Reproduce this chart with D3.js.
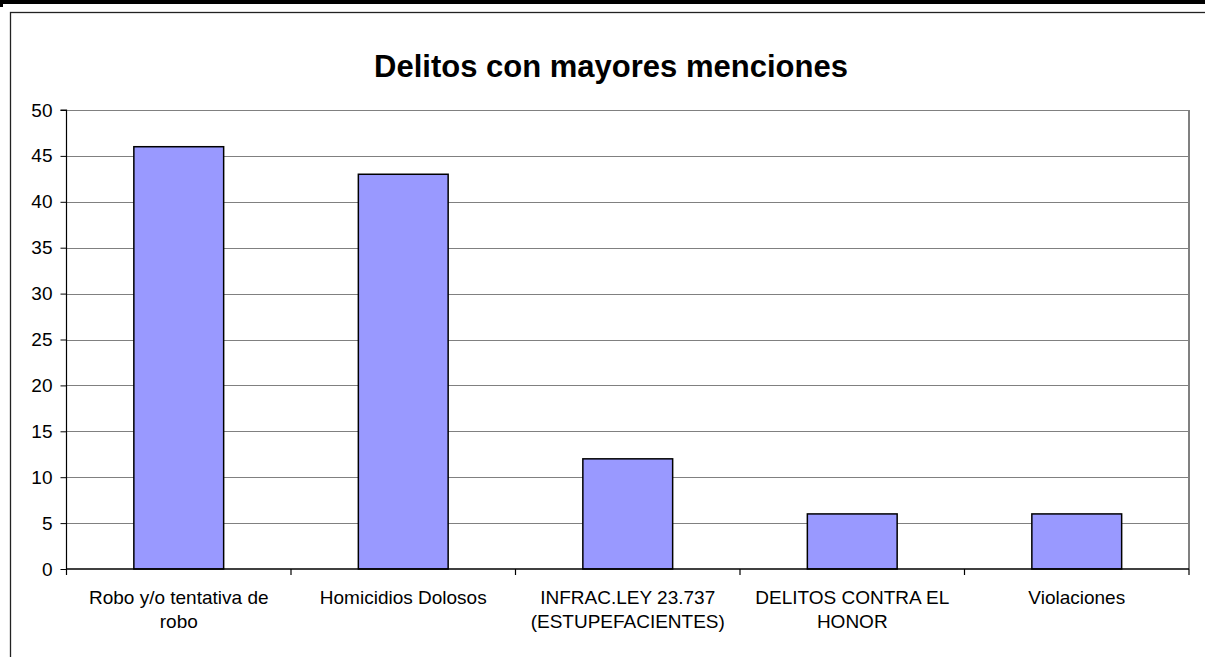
<!DOCTYPE html>
<html>
<head>
<meta charset="utf-8">
<script src="https://cdn.jsdelivr.net/npm/d3@7"></script>
<style>
  html, body { margin: 0; padding: 0; background: #fff; }
  svg { display: block; font-family: Arial, "Liberation Sans", sans-serif; }
</style>
</head>
<body>
<svg id="chart" width="1205" height="657"></svg>
<script>
const title = "Delitos con mayores menciones";
const categories = [
  "Robo y/o tentativa de robo",
  "Homicidios Dolosos",
  "INFRAC.LEY 23.737 (ESTUPEFACIENTES)",
  "DELITOS CONTRA EL HONOR",
  "Violaciones"
];
const values = [46, 43, 12, 6, 6];
const yTicks = [0, 5, 10, 15, 20, 25, 30, 35, 40, 45, 50];

const svg = d3.select("#chart");
const W = 1205, H = 657;
const plot = { left: 66.5, right: 1189, top: 110, bottom: 569 };

// page frame: thick top rule and chart border
svg.append("rect").attr("x", 0).attr("y", 0).attr("width", W).attr("height", 4).attr("fill", "#000");
svg.append("rect").attr("x", 0).attr("y", 0).attr("width", 3).attr("height", 7).attr("fill", "#000");
svg.append("rect").attr("x", 10.5).attr("y", 12.5).attr("width", W + 20).attr("height", H + 20)
  .attr("fill", "none").attr("stroke", "#222").attr("stroke-width", 1.3);

// title
svg.append("text").attr("x", 611).attr("y", 77).attr("text-anchor", "middle")
  .attr("font-size", "31px").attr("font-weight", "bold").attr("fill", "#000").text(title);

const y = d3.scaleLinear().domain([0, 50]).range([plot.bottom, plot.top]);
const x = d3.scaleBand().domain(categories).range([plot.left, plot.right])
  .paddingInner(0.6).paddingOuter(0.3);
const step = x.step();

// gridlines
svg.append("g").selectAll("line").data(yTicks.filter(d => d > 0)).join("line")
  .attr("x1", plot.left).attr("x2", plot.right)
  .attr("y1", d => Math.round(y(d)) + 0.5).attr("y2", d => Math.round(y(d)) + 0.5)
  .attr("stroke", "#808080").attr("stroke-width", 1);

// plot border right
svg.append("line").attr("x1", plot.right).attr("x2", plot.right)
  .attr("y1", plot.top).attr("y2", plot.bottom).attr("stroke", "#808080").attr("stroke-width", 2);

// bars
svg.append("g").selectAll("rect").data(values).join("rect")
  .attr("x", (d, i) => x(categories[i]))
  .attr("width", x.bandwidth())
  .attr("y", d => y(d))
  .attr("height", d => y(0) - y(d))
  .attr("fill", "#9999FF").attr("stroke", "#000").attr("stroke-width", 1.5);

// y axis
const yAxis = d3.axisLeft(y).tickValues(yTicks).tickSize(6).tickPadding(8);
const gy = svg.append("g").attr("transform", `translate(${plot.left},0)`).call(yAxis);
gy.select(".domain").attr("stroke", "#000").attr("stroke-width", 1.2).attr("d", `M-6,${plot.top}H0V${plot.bottom}`);
gy.selectAll(".tick line").attr("stroke", "#000");
gy.selectAll(".tick text").attr("font-size", "19px").attr("fill", "#000")
  .attr("font-family", "Arial, 'Liberation Sans', sans-serif");

// x axis line and category boundary ticks
svg.append("line").attr("x1", plot.left).attr("x2", plot.right)
  .attr("y1", plot.bottom).attr("y2", plot.bottom).attr("stroke", "#000").attr("stroke-width", 1.5);
const boundaries = d3.range(categories.length + 1).map(i => plot.left + i * step);
svg.append("g").selectAll("line").data(boundaries).join("line")
  .attr("x1", d => d).attr("x2", d => d)
  .attr("y1", plot.bottom).attr("y2", plot.bottom + 6)
  .attr("stroke", "#000").attr("stroke-width", 1.2);

// x labels, wrapped
const maxW = 212;
const labels = svg.append("g");
categories.forEach((c, i) => {
  const cx = x(c) + x.bandwidth() / 2;
  const t = labels.append("text").attr("text-anchor", "middle").attr("font-size", "19px").attr("fill", "#000");
  const words = c.split(" ");
  let lines = [], cur = [];
  const probe = t.append("tspan");
  words.forEach(w => {
    const test = cur.concat([w]).join(" ");
    probe.text(test);
    if (probe.node().getComputedTextLength() > maxW && cur.length) {
      lines.push(cur.join(" "));
      cur = [w];
    } else cur.push(w);
  });
  lines.push(cur.join(" "));
  probe.remove();
  lines.forEach((ln, k) => {
    t.append("tspan").attr("x", cx).attr("y", 604 + k * 24).text(ln);
  });
});
</script>
</body>
</html>
